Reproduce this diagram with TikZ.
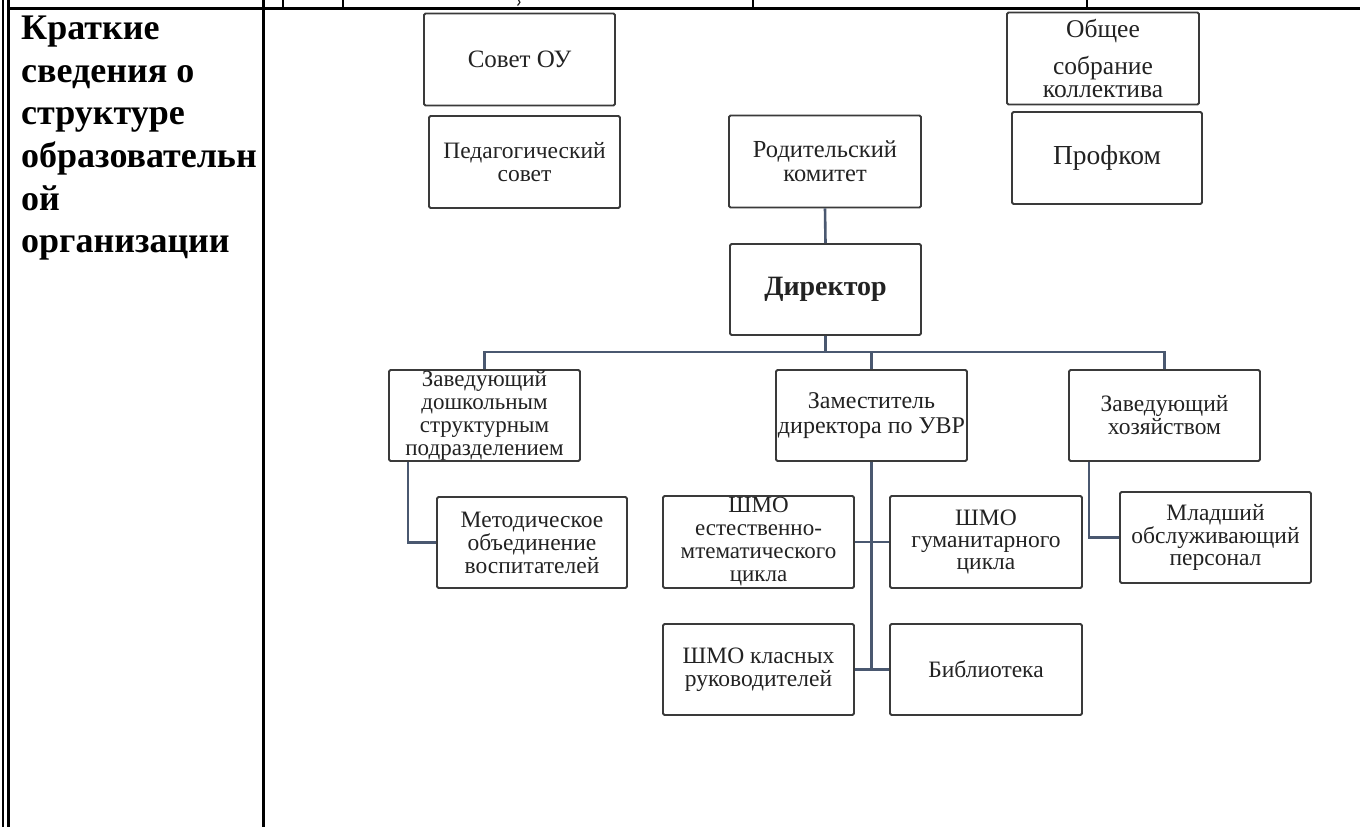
\documentclass[tikz,border=0pt]{standalone}
\usepackage{fontspec}
\setmainfont{Liberation Serif}
\definecolor{boxc}{HTML}{3A3A3A}
\definecolor{connc}{HTML}{4A5870}
\definecolor{txtc}{HTML}{222222}
\begin{document}
\begin{tikzpicture}[x=1pt,y=-1pt,
  box/.style={draw=boxc, line width=1.8pt, rounded corners=1.5pt, align=center,
    inner sep=0pt, text=txtc, minimum width=191pt, minimum height=92pt,
    font=\fontsize{23}{23}\selectfont},
  conn/.style={draw=connc, line width=2.6pt},
  rule/.style={draw=black, line width=2.2pt},
  thinrule/.style={draw=black, line width=1.6pt}]
\useasboundingbox (0,0) rectangle (1360,827);
% table frame
\draw[rule] (3,0) -- (3,827);
\draw[rule] (8.5,0) -- (8.5,827);
\draw[rule] (263.5,0) -- (263.5,827);
\draw[draw=black, line width=3.4pt] (8.5,8.5) -- (1360,8.5);
\draw[thinrule] (283,0) -- (283,7);
\draw[thinrule] (343,0) -- (343,7);
\draw[thinrule] (753,0) -- (753,7);
\draw[thinrule] (1087,0) -- (1087,7);
% cut-off glyph tail of the row above
\draw[line width=1.2pt, txtc] (518.5,0) .. controls (520.5,2) .. (517.5,5.5);
% left column heading
\node[anchor=north west, align=left, inner sep=0pt,
  font=\fontsize{36}{42.6}\selectfont\bfseries] (head) at (21,16)
  {Краткие\\сведения о\\структуре\\образовательн\\ой\\организации};
% boxes
\node[box, font=\fontsize{25}{25}\selectfont] (sovet) at (519.5,59.5) {Совет ОУ};
\node[box, font=\fontsize{23.5}{23.5}\selectfont] (ped) at (524.5,162) {Педагогический\\совет};
\node[box, minimum width=192pt, font=\fontsize{24.5}{24}\selectfont] (rod) at (825,161.5) {Родительский\\комитет};
\node[box, minimum width=192pt, font=\fontsize{25.5}{23}\selectfont] (obsh) at (1103,58.5) {Общее\\[13pt]собрание\\коллектива};
\node[box, minimum width=190pt, font=\fontsize{27.5}{27}\selectfont] (prof) at (1107,158) {Профком};
\node[box, minimum height=91pt, font=\fontsize{28}{28}\selectfont\bfseries] (dir) at (825.5,289.5) {Директор};
\node[box, minimum height=91pt, font=\fontsize{23}{23}\selectfont] (zavdosh) at (484.5,415.5) {Заведующий\\дошкольным\\структурным\\подразделением};
\node[box, minimum height=91pt, font=\fontsize{24}{25}\selectfont] (zam) at (871.5,415.5) {Заместитель\\директора по УВР};
\node[box, minimum height=91pt, font=\fontsize{23.5}{23}\selectfont] (zavhoz) at (1164.5,415.5) {Заведующий\\хозяйством};
\node[box, minimum width=190pt, minimum height=91pt, font=\fontsize{23.5}{23}\selectfont] (met) at (532,542.5) {Методическое\\объединение\\воспитателей};
\node[box] (shmoest) at (758.5,542) {ШМО\\естественно-\\мтематического\\цикла};
\node[box, minimum width=192pt, font=\fontsize{23.5}{22}\selectfont] (shmogum) at (986,542) {ШМО\\гуманитарного\\цикла};
\node[box, minimum height=91pt, font=\fontsize{23.5}{22.5}\selectfont] (mlad) at (1215.5,537.5) {Младший\\обслуживающий\\персонал};
\node[box, minimum height=91pt, font=\fontsize{23.5}{23}\selectfont] (shmokl) at (758.5,669.5) {ШМО класных\\руководителей};
\node[box, minimum width=192pt, minimum height=91pt, font=\fontsize{23.5}{23}\selectfont] (bib) at (986,669.5) {Библиотека};
% connectors
\coordinate (busy) at (0,352);
\draw[conn] (rod.south) -- (dir.north);
\draw[conn] (dir.south) -- (dir.south |- busy);
\draw[conn] (zavdosh.north) -- (zavdosh.north |- busy) -- (zavhoz.north |- busy) -- (zavhoz.north);
\draw[conn] (zam.north) -- (zam.north |- busy);
\draw[conn] ([xshift=20pt]zavdosh.south west) |- (met.west);
\draw[conn] ([xshift=21pt]zavhoz.south west) |- (mlad.west);
\draw[conn] (zam.south) -- (zam.south |- shmokl.east);
\draw[conn] (shmoest.east) -- (shmogum.west);
\draw[conn] (shmokl.east) -- (bib.west);
\end{tikzpicture}
\end{document}
